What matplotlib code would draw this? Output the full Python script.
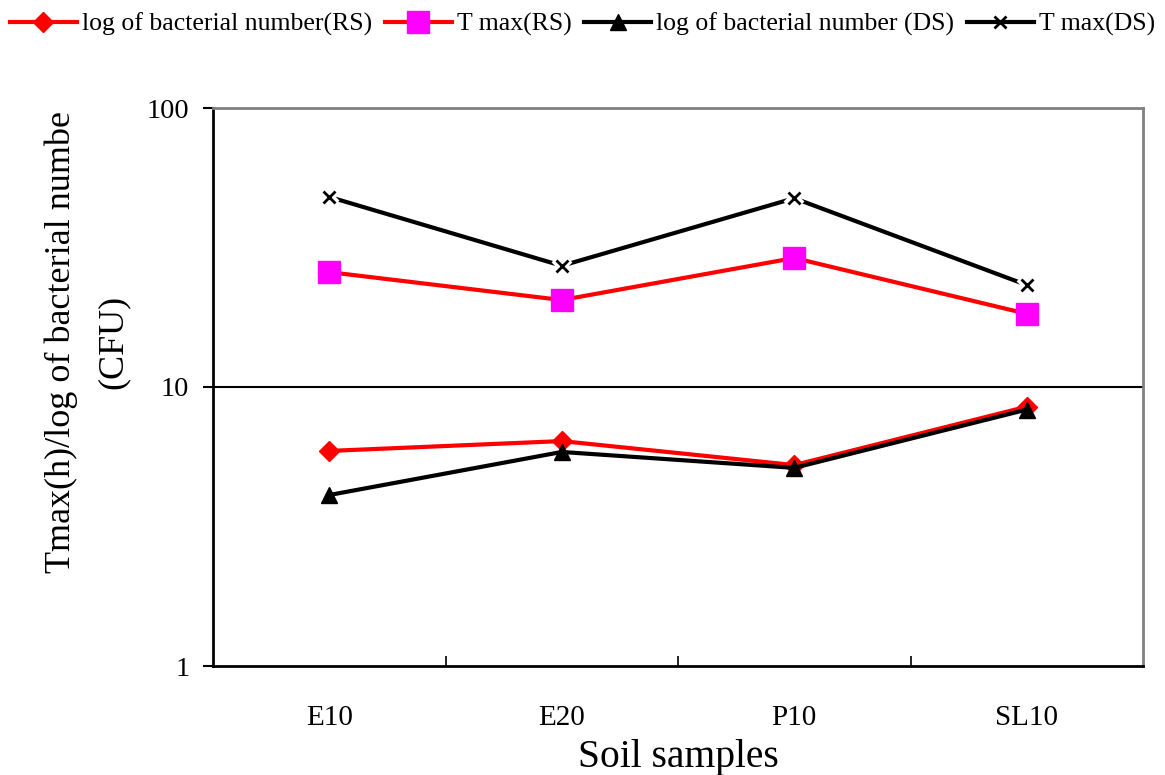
import numpy as np
import matplotlib.pyplot as plt
from matplotlib.ticker import FixedLocator, NullLocator

plt.rcParams['font.family'] = ['Liberation Serif', 'DejaVu Serif']

# 数据
samples = ['E10', 'E20', 'P10', 'SL10']
log_rs = [5.9, 6.4, 5.25, 8.5]
tmax_rs = [25.8, 20.5, 29.0, 18.3]
log_ds = [4.1, 5.85, 5.13, 8.3]
tmax_ds = [48.0, 27.2, 47.5, 23.2]

x = np.arange(len(samples))

fig = plt.figure(figsize=(11.65, 7.75), dpi=100)
ax = fig.add_axes([213 / 1165, 1 - 666 / 775, 930 / 1165, 558 / 775])

lw = 3.0
ax.plot(x, log_rs, color='red', lw=lw, marker='D', ms=10,
        mfc='red', mec='red', label='log of bacterial number(RS)')
ax.plot(x, tmax_rs, color='red', lw=lw, marker='s', ms=16,
        mfc='magenta', mec='magenta', label='T max(RS)')
ax.plot(x, log_ds, color='black', lw=lw, marker='^', ms=11,
        mfc='black', mec='black', label='log of bacterial number (DS)')
ax.plot(x, tmax_ds, color='black', lw=lw, label='_nolegend_')
# x 标记周围留白
ax.plot(x, tmax_ds, ls='none', marker='x', ms=10, mew=7, mec='white',
        zorder=3)
ax.plot(x, tmax_ds, color='black', lw=lw, ls='none', marker='x', ms=9,
        mew=2, zorder=4)
h_ds, = ax.plot([], [], color='black', lw=lw, marker='x', ms=9, mew=2,
                label='T max(DS)')

ax.set_yscale('log')
ax.set_ylim(1, 100)
ax.set_xlim(-0.5, len(samples) - 0.5)
ax.yaxis.set_major_locator(FixedLocator([1, 10, 100]))
ax.yaxis.set_minor_locator(NullLocator())
ax.set_yticklabels(['1', '10', '100'])
ax.axhline(10, color='black', lw=1.5, zorder=0)

# x 轴刻度在类别之间
ax.set_xticks(x)
ax.set_xticklabels(samples)
ax.set_xticks(np.arange(0.5, len(samples) - 0.5), minor=True)
ax.tick_params(axis='x', which='major', length=0, pad=28, labelsize=21)
ax.tick_params(axis='x', which='minor', direction='in', length=7, width=1.2)
ax.tick_params(axis='y', which='major', direction='out', length=7, width=1.5,
               labelsize=20.5, pad=10)

for s in ['left', 'bottom']:
    ax.spines[s].set_color('black')
    ax.spines[s].set_linewidth(2)
for s in ['top', 'right']:
    ax.spines[s].set_color('#808080')
    ax.spines[s].set_linewidth(2)

ax.set_xlabel('Soil samples', fontsize=28.5, labelpad=6)
ax.set_ylabel('Tmax(h)/log of bacterial numbe\n(CFU)', fontsize=26,
              linespacing=1.75)
ax.yaxis.set_label_coords(-0.09, 0.58)

handles, labels = ax.get_legend_handles_labels()
fig.legend(handles, labels, loc='upper center', bbox_to_anchor=(0.5, 1.0),
           ncol=4, frameon=False, fontsize=18.5, handlelength=2.6,
           handletextpad=0.2, columnspacing=0.5, borderaxespad=0.1)

plt.savefig('out.png', dpi=100)
